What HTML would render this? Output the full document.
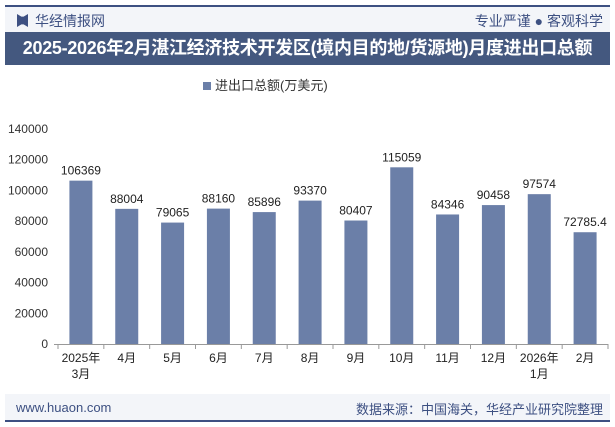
<!DOCTYPE html>
<html><head><meta charset="utf-8"><style>
body{margin:0;width:615px;height:427px;background:#fff;font-family:"Liberation Sans","Noto Sans CJK SC",sans-serif;overflow:hidden;position:relative}
.abs{position:absolute}
</style></head><body>
<div class="abs" style="left:5px;top:5px;width:605px;height:2px;background:#3d5082"></div>
<div class="abs" style="left:5px;top:7px;width:605px;height:25px;background:#f3f5f9"></div>
<div class="abs" style="left:17px;top:14px;width:11px;height:13px;background:#3d5082;clip-path:polygon(0 0,40% 20%,60% 20%,100% 0,100% 100%,60% 80%,40% 80%,0 100%)"></div>
<div class="abs" style="left:35px;top:11px;font-size:14px;color:#3d5082">华经情报网</div>
<div class="abs" style="right:12px;top:11px;font-size:14px;color:#3d5082">专业严谨 ● 客观科学</div>
<div class="abs" style="left:5px;top:32px;width:605px;height:33px;background:#44587f;color:#fff;font-weight:bold;font-size:18px;line-height:33px;text-align:center;white-space:nowrap;letter-spacing:-0.3px">2025-2026年2月湛江经济技术开发区(境内目的地/货源地)月度进出口总额</div>
<div class="abs" style="left:203px;top:75px;font-size:13px;color:#333"><span style="display:inline-block;width:8px;height:8px;background:#6b7fa8;margin-right:4px"></span>进出口总额(万美元)</div>
<svg class="abs" style="left:0;top:0" width="615" height="427" id="chart"></svg>
<div class="abs" style="left:5px;top:394px;width:605px;height:26px;background:#f3f5f9"></div>
<div class="abs" style="left:5px;top:420px;width:605px;height:2px;background:#3d5082"></div>
<div class="abs" style="left:16px;top:400px;font-size:13px;color:#3d5082">www.huaon.com</div>
<div class="abs" style="right:12px;top:399px;font-size:13px;color:#3d5082">数据来源：中国海关，华经产业研究院整理</div>
<script>
const categories=["2025年|3月","4月","5月","6月","7月","8月","9月","10月","11月","12月","2026年|1月","2月"];
const values=[106369,88004,79065,88160,85896,93370,80407,115059,84346,90458,97574,72785.4];
const labels=["106369","88004","79065","88160","85896","93370","80407","115059","84346","90458","97574","72785.4"];
const ticks=[0,20000,40000,60000,80000,100000,120000,140000];
const svg=document.getElementById('chart');const NS='http://www.w3.org/2000/svg';
const L=58,R=608,Y0=344,Y1=129,MAX=140000;
const y=v=>Y0-(v/MAX)*(Y0-Y1);
const bw=(R-L)/categories.length;
const x=i=>L+bw*(i+0.5);
function mk(t,a,txt){const e=document.createElementNS(NS,t);for(const k in a)e.setAttribute(k,a[k]);if(txt!==undefined)e.textContent=txt;svg.appendChild(e);return e;}
ticks.forEach(t=>{const e=mk('text',{x:L-10,y:y(t)+4,'text-anchor':'end','font-size':12,fill:'#333'},t);

});
values.forEach((v,i)=>{
const r=mk('rect',{x:x(i)-11.5,y:y(v),width:23,height:Y0-y(v),fill:'#6b7fa8'});


const t=mk('text',{x:x(i),y:y(v)-6,'text-anchor':'middle','font-size':12,fill:'#222'},labels[i]);


categories[i].split('|').forEach((s,j)=>{const c=mk('text',{x:x(i),y:362+j*16,'text-anchor':'middle','font-size':12,fill:'#222'},s);

});
});
const ax=mk('line',{x1:L-4,x2:R,y1:Y0+0.5,y2:Y0+0.5,stroke:'#999'});


for(let i=0;i<=categories.length;i++){const tk=mk('line',{x1:L+bw*i,x2:L+bw*i,y1:Y0,y2:Y0+5,stroke:'#999'});

}
</script>
</body></html>
